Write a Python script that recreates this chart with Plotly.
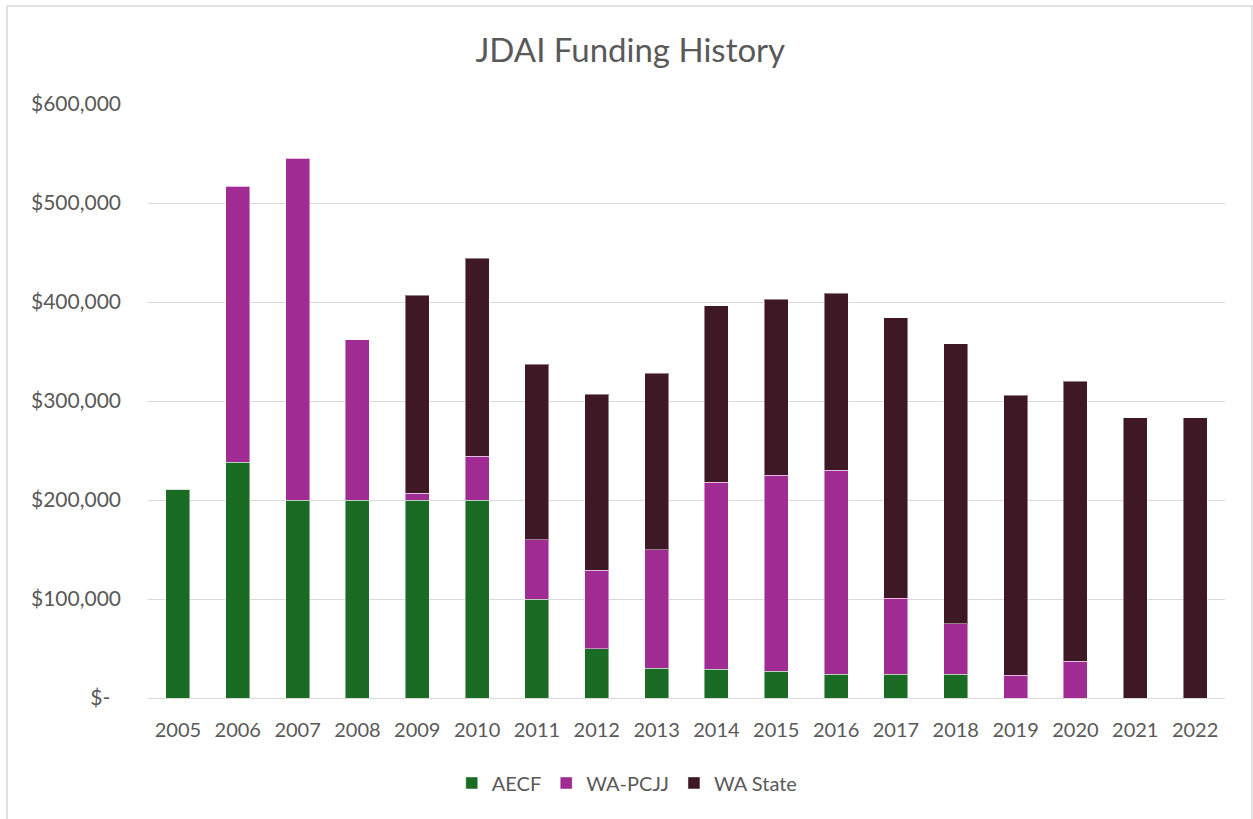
import plotly.graph_objects as go

years = ["2005", "2006", "2007", "2008", "2009", "2010", "2011", "2012", "2013",
         "2014", "2015", "2016", "2017", "2018", "2019", "2020", "2021", "2022"]
aecf = [211000, 238000, 200000, 200000, 200000, 200000, 100000, 50000, 30000,
        29000, 27000, 24000, 24000, 24000, 0, 0, 0, 0]
wa_pcjj = [0, 279000, 345000, 162000, 7000, 44000, 60000, 79000, 120000,
           189000, 198000, 206000, 77000, 51000, 23000, 37000, 0, 0]
wa_state = [0, 0, 0, 0, 200000, 200000, 177000, 178000, 178000,
            178000, 178000, 179000, 283000, 283000, 283000, 283000, 283000, 283000]

tick_vals = [0, 100000, 200000, 300000, 400000, 500000, 600000]
tick_text = ["$-\u00a0\u00a0", "$100,000", "$200,000", "$300,000",
             "$400,000", "$500,000", "$600,000"]

FONT = "Lato, 'Open Sans', sans-serif"
edge = dict(color="rgba(255,255,255,0.45)", width=1)

fig = go.Figure()
fig.add_trace(go.Bar(name="AECF", x=years, y=aecf,
                     marker=dict(color="rgb(26,107,36)", line=edge)))
fig.add_trace(go.Bar(name="WA-PCJJ", x=years, y=wa_pcjj,
                     marker=dict(color="rgb(160,43,147)", line=edge)))
fig.add_trace(go.Bar(name="WA State", x=years, y=wa_state,
                     marker=dict(color="rgb(62,25,37)", line=edge)))

fig.update_layout(
    barmode="stack",
    bargap=0.6,
    width=1253, height=819,
    margin=dict(l=148, r=28, t=104, b=121),
    paper_bgcolor="white", plot_bgcolor="white",
    font=dict(family=FONT, color="#595959", size=20),
    title=dict(text="JDAI Funding History", x=0.503, xref="container",
               y=1 - 50 / 819, yref="container", yanchor="middle", xanchor="center",
               font=dict(size=33, color="#595959", family=FONT)),
    legend=dict(orientation="h", x=0.445, xanchor="center", y=-0.143, yanchor="middle",
                font=dict(size=20, color="#595959"), traceorder="normal",
                itemwidth=30),
    xaxis=dict(showgrid=False, showline=True, linecolor="#d9d9d9", linewidth=1,
               tickfont=dict(size=20, color="#595959"), ticks="",
               ticklabelstandoff=14),
    yaxis=dict(range=[0, 600000], tickvals=tick_vals, ticktext=tick_text,
               showgrid=True, gridcolor="#d9d9d9", gridwidth=1, zeroline=False,
               tickfont=dict(size=21, color="#595959"), ticks="",
               ticklabelstandoff=26),
    shapes=[dict(type="rect", xref="paper", yref="paper",
                 x0=(7 - 148) / 1077, x1=(1252 - 148) / 1077,
                 y0=-0.25, y1=(698 - 6) / 594,
                 line=dict(color="#d9d9d9", width=1.5), fillcolor="rgba(0,0,0,0)",
                 layer="below")],
    showlegend=True,
)

fig.write_html("out.html", config={"displayModeBar": False},
               post_script="document.body.style.margin='0';document.body.style.padding='0';")
